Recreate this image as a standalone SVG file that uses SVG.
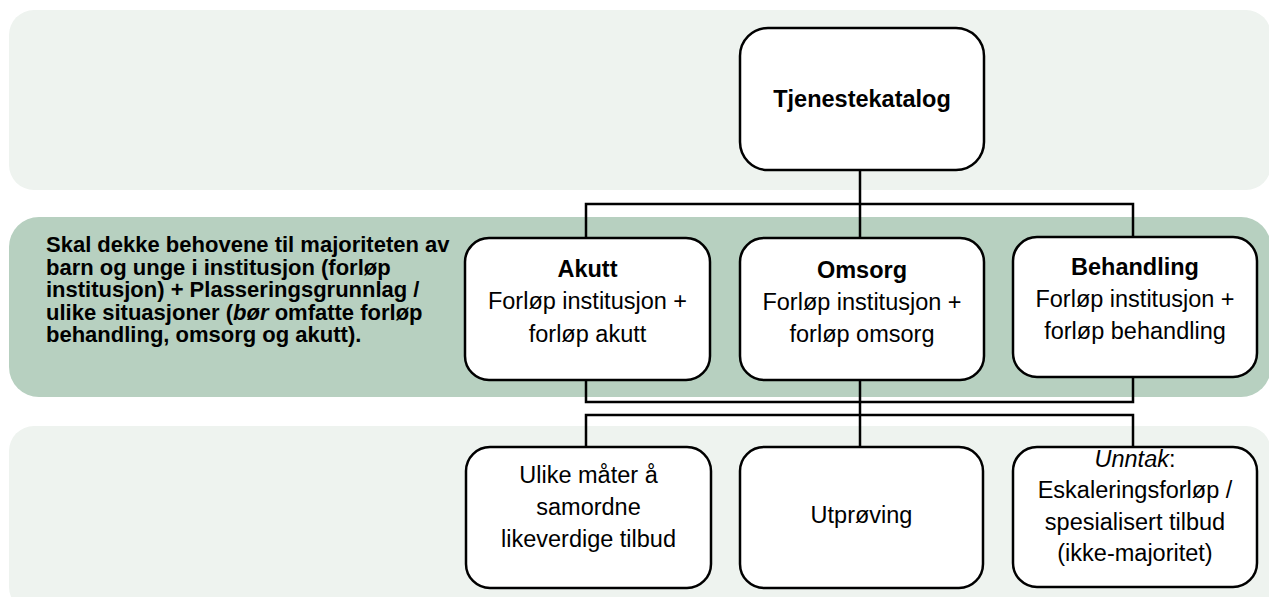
<svg xmlns="http://www.w3.org/2000/svg" width="1269" height="597" viewBox="0 0 1269 597">
<style>
.band-light{fill:#eef3ef}
.band-mid{fill:#b7d0c0}
.box{fill:#ffffff;stroke:#000000;stroke-width:2.5}
.conn{fill:none;stroke:#000000;stroke-width:2.5}
text{font-family:"Liberation Sans",Arial,sans-serif;fill:#000000}
.t{font-size:23.5px;text-anchor:middle}
.b{font-weight:bold}
.side{font-size:22px;font-weight:bold}
</style>
<rect class="band-light" x="9" y="10" width="1262" height="180" rx="25"/>
<rect class="band-mid" x="9" y="217" width="1262" height="180" rx="30"/>
<rect class="band-light" x="9" y="426" width="1262" height="186" rx="25"/>
<g id="side-text">
<text class="side" x="46" y="252">Skal dekke behovene til majoriteten av</text>
<text class="side" x="46" y="274.5">barn og unge i institusjon (forløp</text>
<text class="side" x="46" y="297">institusjon) + Plasseringsgrunnlag /</text>
<text class="side" x="46" y="319.5">ulike situasjoner (<tspan font-style="italic">bør</tspan> omfatte forløp</text>
<text class="side" x="46" y="342">behandling, omsorg og akutt).</text>
</g>
<g id="connectors">
<path class="conn" d="M860 170 V238"/>
<path class="conn" d="M586 238 V204 H1133 V237"/>
<path class="conn" d="M586 380 V402 H1133 V377"/>
<path class="conn" d="M860 380 V447"/>
<path class="conn" d="M586 447 V415 H1133 V447"/>
</g>
<g id="tjenestekatalog">
<rect class="box" x="740" y="28" width="244" height="142" rx="28"/>
<text class="t b" x="862" y="107">Tjenestekatalog</text>
</g>
<g id="akutt">
<rect class="box" x="465" y="238" width="245" height="142" rx="24"/>
<text class="t b" x="587.5" y="277">Akutt</text>
<text class="t" x="587.5" y="309">Forløp institusjon +</text>
<text class="t" x="587.5" y="342">forløp akutt</text>
</g>
<g id="omsorg">
<rect class="box" x="740" y="238" width="244" height="142" rx="24"/>
<text class="t b" x="862" y="278">Omsorg</text>
<text class="t" x="862" y="310">Forløp institusjon +</text>
<text class="t" x="862" y="342">forløp omsorg</text>
</g>
<g id="behandling">
<rect class="box" x="1013" y="237" width="244" height="140" rx="24"/>
<text class="t b" x="1135" y="275">Behandling</text>
<text class="t" x="1135" y="307">Forløp institusjon +</text>
<text class="t" x="1135" y="339">forløp behandling</text>
</g>
<g id="samordne">
<rect class="box" x="466" y="447" width="245" height="141" rx="24"/>
<text class="t" x="588.5" y="483">Ulike måter å</text>
<text class="t" x="588.5" y="515">samordne</text>
<text class="t" x="588.5" y="547">likeverdige tilbud</text>
</g>
<g id="utproving">
<rect class="box" x="740" y="447" width="243" height="141" rx="24"/>
<text class="t" x="861.5" y="523">Utprøving</text>
</g>
<g id="unntak">
<rect class="box" x="1013" y="447" width="244" height="140" rx="24"/>
<text class="t" x="1135" y="467"><tspan font-style="italic">Unntak</tspan>:</text>
<text class="t" x="1135" y="498">Eskaleringsforløp /</text>
<text class="t" x="1135" y="530">spesialisert tilbud</text>
<text class="t" x="1135" y="561">(ikke-majoritet)</text>
</g>
</svg>
